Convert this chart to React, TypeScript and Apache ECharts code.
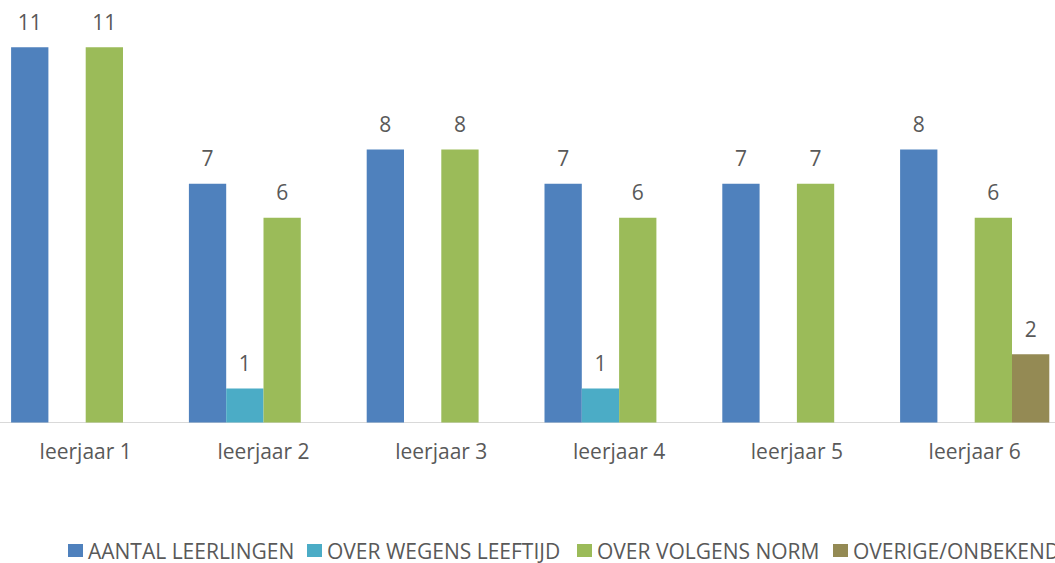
import React, { useEffect, useRef } from "react";
import * as echarts from "echarts";

const categories = ["leerjaar 1", "leerjaar 2", "leerjaar 3", "leerjaar 4", "leerjaar 5", "leerjaar 6"];
const seriesNames = ["AANTAL LEERLINGEN", "OVER WEGENS LEEFTIJD", "OVER VOLGENS NORM", "OVERIGE/ONBEKEND"];
const aantalLeerlingen = [11, 7, 8, 7, 7, 8];
const overWegensLeeftijd = [null, 1, null, 1, null, null];
const overVolgensNorm = [11, 6, 8, 6, 7, 6];
const overigeOnbekend = [null, null, null, null, null, 2];
const seriesColors = ["#4F81BD", "#4BACC6", "#9BBB59", "#948A54"];
const legendLefts = [68, 307, 577, 833];

const FONT = "'Open Sans', 'Noto Sans', sans-serif";
const TEXT = "#595959";
const OFFSET = 10;

export default function App() {
  const ref = useRef<HTMLDivElement>(null);
  useEffect(() => {
    if (!ref.current) return;
    const chart = echarts.init(ref.current, undefined, { renderer: "svg" });
    const values = [aantalLeerlingen, overWegensLeeftijd, overVolgensNorm, overigeOnbekend];
    chart.setOption({
      animation: false,
      backgroundColor: "#ffffff",
      textStyle: { fontFamily: FONT },
      grid: { left: OFFSET - 3.2, width: 1066.8, top: 13, bottom: 140.5 },
      legend: seriesNames.map((n, i) => ({
        data: [n],
        left: legendLefts[i] + OFFSET,
        top: 540,
        itemWidth: 15,
        itemHeight: 13,
        icon: "rect",
        itemGap: 0,
        textStyle: { color: TEXT, fontSize: 21, fontFamily: FONT },
        padding: 0,
      })),
      xAxis: {
        type: "category",
        data: categories,
        axisLine: { lineStyle: { color: "#D9D9D9", width: 1 } },
        axisTick: { show: false },
        axisLabel: { color: TEXT, fontSize: 21, fontFamily: FONT, margin: 18 },
      },
      yAxis: {
        type: "value",
        min: 0,
        max: 12,
        show: false,
        splitLine: { show: false },
      },
      series: seriesNames.map((n, i) => ({
        name: n,
        type: "bar",
        data: values[i],
        barWidth: 37.3,
        barGap: "0%",
        itemStyle: { color: seriesColors[i] },
        label: {
          show: true,
          position: "top",
          distance: 15,
          color: TEXT,
          fontSize: 21,
          fontFamily: FONT,
        },
      })),
    });
    return () => chart.dispose();
  }, []);
  return (
    <div style={{ position: "fixed", left: 0, top: 0, width: 1055, height: 563, overflow: "hidden", background: "#fff" }}>
      <div ref={ref} style={{ position: "absolute", left: -OFFSET, top: 0, width: 1100, height: 563 }} />
    </div>
  );
}
